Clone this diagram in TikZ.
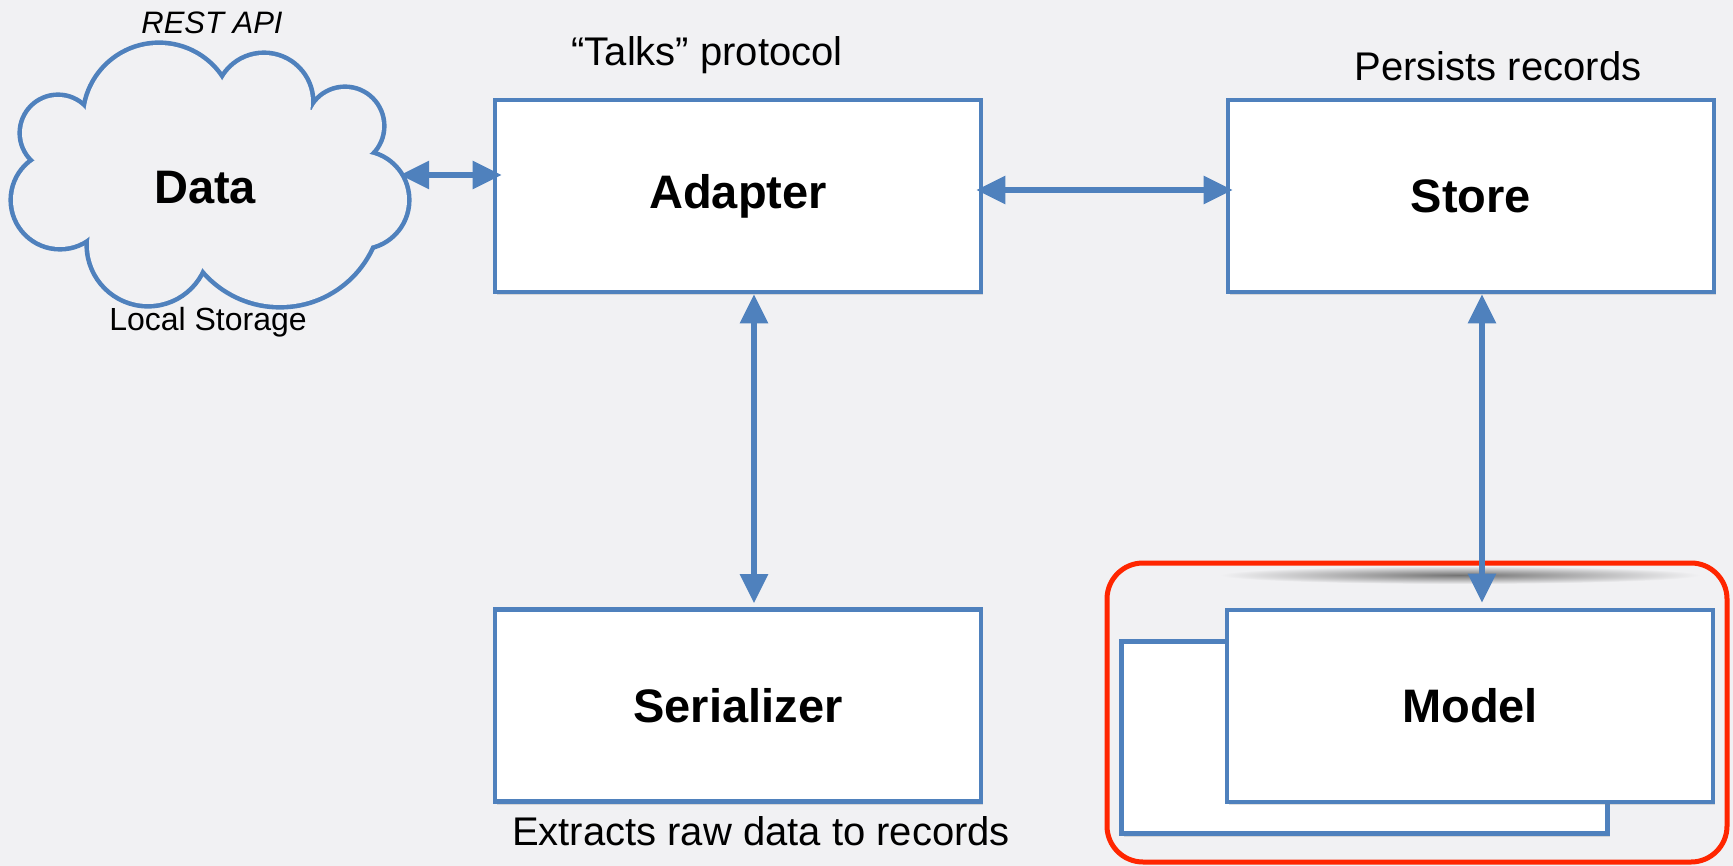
\documentclass[tikz,border=0pt]{standalone}
\usepackage{fontspec}
\setmainfont{Liberation Sans}
\usepackage{xcolor}
\usepackage{tikz}
\usetikzlibrary{shapes,arrows,positioning,calc,arrows.meta,shadows}

\definecolor{paper}{RGB}{241,241,243}
\definecolor{lineblue}{RGB}{79,129,189}
\definecolor{hired}{RGB}{255,38,0}

\tikzset{
    block/.style={draw=lineblue, line width=2.3pt, fill=white,
        minimum width=243pt, minimum height=96pt,
        font=\fontsize{23.5}{28}\selectfont\bfseries,
        drop shadow={shadow xshift=1pt, shadow yshift=-1.5pt, opacity=0.25}},
    link/.style={draw=lineblue, line width=2.8pt,
        {Triangle[length=14.5pt,width=13.5pt]}-{Triangle[length=14.5pt,width=13.5pt]}},
    note/.style={font=\fontsize{20}{24}\selectfont},
}

\begin{document}
\begin{tikzpicture}
        \useasboundingbox[fill=paper] (0,0) rectangle (866.5pt,-433pt);

        % Data cloud: outline of a union of puffs
        \foreach \cx/\cy/\r in {79.5/-59.5/37, 132/-51/23.5, 172.5/-63/18.5, 180/-100/23.5,
                                140/-102.5/50, 74/-122.5/29.5, 30/-100/23.5, 29/-66.5/18}
            \draw[lineblue, line width=4.6pt] (\cx pt,\cy pt) circle (\r pt);
        \foreach \cx/\cy/\r in {79.5/-59.5/37, 132/-51/23.5, 172.5/-63/18.5, 180/-100/23.5,
                                140/-102.5/50, 74/-122.5/29.5, 30/-100/23.5, 29/-66.5/18}
            \fill[paper] (\cx pt,\cy pt) circle (\r pt);
        \fill[paper] (102.5pt,-87.5pt) ellipse (75pt and 40pt);
        \node[font=\fontsize{23.5}{28}\selectfont\bfseries] (data) at (102.5pt,-94pt) {Data};
        \coordinate (dataport) at (200pt,-87.5pt);
        \node[font=\fontsize{15.5}{18}\selectfont\itshape] (rest) at (106pt,-11.5pt) {REST API};
        \node[font=\fontsize{16}{19}\selectfont] (local) at (104pt,-161pt) {Local Storage};

        % red frame round the models, with its smudge
        \shade[inner color=black!55, outer color=paper] (730pt,-287.5pt) ellipse (120pt and 4.5pt);
        \draw[hired, line width=2.5pt, rounded corners=18pt] (553.5pt,-281.5pt) rectangle (863.5pt,-431pt);

        % boxes
        \node[block] (adapter) at (369pt,-98pt) {Adapter};
        \node[block] (store) at (735.5pt,-98pt) {Store};
        \node[block] (serializer) at (369pt,-352.75pt) {Serializer};
        \node[block] (modelback) at (682.25pt,-368.75pt) {};
        \node[block] (model) at (735pt,-353pt) {Model};

        % notes
        \node[note] (talks) at (353.5pt,-27.5pt) {“Talks” protocol};
        \node[note] (persists) at (749pt,-33pt) {Persists records};
        \node[note] (extracts) at (380.5pt,-415.5pt) {Extracts raw data to records};

        % links
        \draw[link, shorten >=-4.5pt] (dataport) -- (dataport -| adapter.west);
        \draw[link, shorten <=-3.5pt, shorten >=-3.5pt] ([yshift=3pt]adapter.east) -- ([yshift=3pt]adapter.east -| store.west);
        \draw[link, shorten >=2pt] ([xshift=8pt]adapter.south) -- ([xshift=8pt]adapter.south |- serializer.north);
        \draw[link, shorten >=2.5pt] ([xshift=5.5pt]store.south) -- ([xshift=5.5pt]store.south |- model.north);
    \end{tikzpicture}
\end{document}
